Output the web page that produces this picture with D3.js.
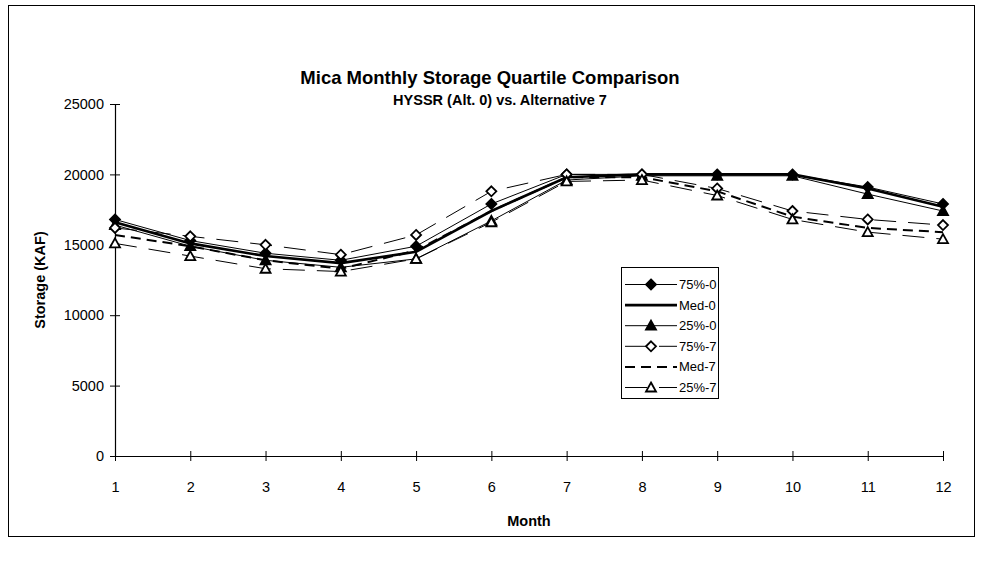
<!DOCTYPE html>
<html>
<head>
<meta charset="utf-8">
<script src="https://cdn.jsdelivr.net/npm/d3@7"></script>
<style>
  html, body { margin: 0; padding: 0; background: #fff; }
  svg { display: block; font-family: "Liberation Sans", Arial, Helvetica, sans-serif; }
</style>
</head>
<body>
<svg id="chart" width="983" height="561"></svg>
<script>
const months = [1, 2, 3, 4, 5, 6, 7, 8, 9, 10, 11, 12];
const p75_0 = [16800, 15300, 14400, 13900, 14900, 17900, 20000, 20000, 20000, 20000, 19100, 17900];
const med_0 = [16600, 15100, 14200, 13700, 14500, 17400, 19800, 20000, 20000, 20000, 19000, 17700];
const p25_0 = [16400, 14900, 13900, 13400, 14000, 16700, 19600, 19900, 19900, 19900, 18600, 17400];
const p75_7 = [16200, 15600, 15000, 14300, 15700, 18800, 20000, 20000, 19000, 17400, 16800, 16400];
const med_7 = [15700, 14900, 13900, 13300, 14600, 17400, 19800, 19800, 18800, 17000, 16200, 15900];
const p25_7 = [15100, 14200, 13300, 13100, 14000, 16600, 19500, 19600, 18500, 16800, 15900, 15400];
const yTicks = [0, 5000, 10000, 15000, 20000, 25000];
const seriesNames = ["75%-0", "Med-0", "25%-0", "75%-7", "Med-7", "25%-7"];
const titleText = "Mica Monthly Storage Quartile Comparison";
const subtitleText = "HYSSR (Alt. 0) vs. Alternative 7";
const yLabel = "Storage (KAF)";
const xLabel = "Month";

const series = [
  { name: seriesNames[0], values: p75_0, width: 1,   dash: null,    marker: "diamond",  fill: "#000" },
  { name: seriesNames[1], values: med_0, width: 2.6, dash: null,    marker: null,       fill: null },
  { name: seriesNames[2], values: p25_0, width: 1,   dash: null,    marker: "triangle", fill: "#000" },
  { name: seriesNames[3], values: p75_7, width: 1,   dash: "22,12", marker: "diamond",  fill: "#fff" },
  { name: seriesNames[4], values: med_7, width: 2,   dash: "10,6",  marker: null,       fill: null },
  { name: seriesNames[5], values: p25_7, width: 1,   dash: "22,12", marker: "triangle", fill: "#fff" }
];

const svg = d3.select("#chart");

// outer frame
svg.append("rect").attr("x", 8.5).attr("y", 5.5).attr("width", 966).attr("height", 531)
  .attr("fill", "none").attr("stroke", "#000").attr("stroke-width", 1);

const x = d3.scaleLinear().domain([1, 12]).range([115, 943]);
const y = d3.scaleLinear().domain([0, 25000]).range([456, 104]);

// titles
svg.append("text").attr("x", 490).attr("y", 84).attr("text-anchor", "middle")
  .attr("font-weight", "bold").attr("font-size", 18.5).text(titleText);
svg.append("text").attr("x", 500).attr("y", 105).attr("text-anchor", "middle")
  .attr("font-weight", "bold").attr("font-size", 14.5).text(subtitleText);

// axes
const yAxis = d3.axisLeft(y).tickValues(yTicks).tickSize(0).tickPadding(11).tickFormat(d3.format("d"));
const gy = svg.append("g").attr("transform", `translate(${x(1)},0)`).call(yAxis);
gy.select(".domain").attr("stroke", "#000").attr("stroke-width", 1.2);
gy.selectAll(".tick text").attr("font-size", 14.5).attr("fill", "#000")
  .attr("font-family", "'Liberation Sans', Arial, sans-serif");
gy.selectAll(".tick").append("line").attr("x1", -5).attr("x2", 5).attr("stroke", "#000");

const xAxis = d3.axisBottom(x).tickValues(months).tickSize(0).tickPadding(26).tickFormat(d3.format("d"));
const gx = svg.append("g").attr("transform", `translate(0,${y(0)})`).call(xAxis);
gx.select(".domain").attr("stroke", "#000").attr("stroke-width", 1.2);
gx.selectAll(".tick text").attr("font-size", 14.5).attr("fill", "#000")
  .attr("font-family", "'Liberation Sans', Arial, sans-serif");
gx.selectAll(".tick").append("line").attr("y1", -5).attr("y2", 5).attr("stroke", "#000");

// axis titles
svg.append("text").attr("x", 529).attr("y", 526).attr("text-anchor", "middle")
  .attr("font-weight", "bold").attr("font-size", 14.5).text(xLabel);
svg.append("text").attr("transform", "translate(45,280) rotate(-90)").attr("text-anchor", "middle")
  .attr("font-weight", "bold").attr("font-size", 14.5).text(yLabel);

function drawMarker(g, s, cx, cy) {
  const sz = 5;
  if (s.marker === "diamond") {
    g.append("path")
      .attr("d", `M${cx},${cy - sz}L${cx + sz},${cy}L${cx},${cy + sz}L${cx - sz},${cy}Z`)
      .attr("fill", s.fill).attr("stroke", "#000").attr("stroke-width", 1.8);
  } else if (s.marker === "triangle") {
    g.append("path")
      .attr("d", `M${cx},${cy - sz}L${cx + sz},${cy + sz * 0.8}L${cx - sz},${cy + sz * 0.8}Z`)
      .attr("fill", s.fill).attr("stroke", "#000").attr("stroke-width", 1.8);
  }
}

const line = d3.line().x((d, i) => x(months[i])).y(d => y(d));
const plot = svg.append("g");
series.forEach(s => {
  plot.append("path").datum(s.values).attr("d", line)
    .attr("fill", "none").attr("stroke", "#000").attr("stroke-width", s.width)
    .attr("stroke-dasharray", s.dash);
});
series.forEach(s => {
  if (!s.marker) return;
  const g = plot.append("g");
  s.values.forEach((v, i) => drawMarker(g, s, x(months[i]), y(v)));
});

// legend
const lg = svg.append("g");
lg.append("rect").attr("x", 621.5).attr("y", 267.5).attr("width", 97).attr("height", 131)
  .attr("fill", "#fff").attr("stroke", "#000").attr("stroke-width", 1);
series.forEach((s, i) => {
  const cy = 284.5 + i * 20.6;
  lg.append("line").attr("x1", 625).attr("x2", 677).attr("y1", cy).attr("y2", cy)
    .attr("stroke", "#000").attr("stroke-width", s.width).attr("stroke-dasharray", s.dash);
  drawMarker(lg, s, 651, cy);
  lg.append("text").attr("x", 679).attr("y", cy + 4.5).attr("font-size", 13).text(s.name);
});
</script>
</body>
</html>
